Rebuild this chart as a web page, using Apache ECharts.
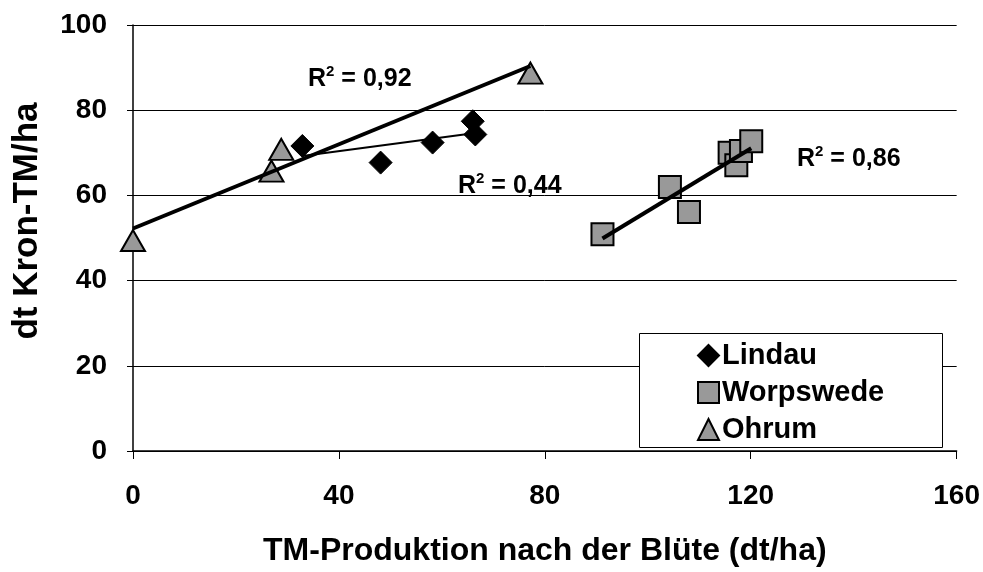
<!DOCTYPE html>
<html>
<head>
<meta charset="utf-8">
<script src="https://cdn.jsdelivr.net/npm/echarts@6/dist/echarts.min.js"></script>
<style>html,body{margin:0;padding:0;background:#fff;}#c{width:983px;height:572px;}</style>
</head>
<body>
<div id="c"></div>
<script>
// Data
const lindauX = [32.9, 48.1, 58.2, 66.0, 66.5];
const lindauY = [71.6, 67.7, 72.4, 77.4, 74.3];
const worpX = [91.2, 104.3, 108.0, 115.9, 117.2, 118.1, 120.1];
const worpY = [50.9, 62.0, 56.1, 70.0, 67.1, 70.4, 72.7];
const ohrumX = [0, 26.9, 28.8, 77.2];
const ohrumY = [49.4, 65.7, 70.8, 88.7];
const r2Values = ['0,92', '0,44', '0,86'];
const seriesNames = ['Lindau', 'Worpswede', 'Ohrum'];
const xTitle = 'TM-Produktion nach der Blüte (dt/ha)';
const yTitle = 'dt Kron-TM/ha';

function pairs(xs, ys) { return xs.map((x, i) => [x, ys[i]]); }
// least-squares linear trendline (like the spreadsheet trendline), drawn from min x to max x
function trend(xs, ys) {
  const n = xs.length;
  const mx = xs.reduce((a, b) => a + b, 0) / n;
  const my = ys.reduce((a, b) => a + b, 0) / n;
  let sxy = 0, sxx = 0;
  for (let i = 0; i < n; i++) { sxy += (xs[i] - mx) * (ys[i] - my); sxx += (xs[i] - mx) ** 2; }
  const b = sxy / sxx, a = my - b * mx;
  const x0 = Math.min(...xs), x1 = Math.max(...xs);
  return [[x0, a + b * x0], [x1, a + b * x1]];
}

const FONT = "'Liberation Sans', Arial, sans-serif";
const r2Rich = {
  b: { fontSize: 25, fontWeight: 'bold', fontFamily: FONT, color: '#000', lineHeight: 28, verticalAlign: 'bottom' },
  s: { fontSize: 15, fontWeight: 'bold', fontFamily: FONT, color: '#000', lineHeight: 15, verticalAlign: 'top' }
};
function r2Text(x, y, v) {
  return { type: 'text', z: 100, x: x, y: y,
    style: { text: '{b|R}{s|2}{b| = ' + v + '}', rich: r2Rich, align: 'left', verticalAlign: 'middle' } };
}

const chart = echarts.init(document.getElementById('c'));
const mk = { color: '#999999', borderColor: '#000', borderWidth: 2, opacity: 1 };
chart.setOption({
  animation: false,
  backgroundColor: '#fff',
  grid: { left: 133, right: 25, top: 25, bottom: 119, containLabel: false },
  xAxis: {
    type: 'value', min: 0, max: 160, interval: 40,
    axisLine: { onZero: false, lineStyle: { color: '#000', width: 1.5 } },
    axisTick: { show: true, length: 8, lineStyle: { color: '#000' } },
    axisLabel: { margin: 31, color: '#000', fontSize: 28, fontWeight: 'bold', fontFamily: FONT },
    splitLine: { show: false },
    name: xTitle, nameLocation: 'middle', nameGap: 84,
    nameTextStyle: { color: '#000', fontSize: 32, fontWeight: 'bold', fontFamily: FONT }
  },
  yAxis: {
    type: 'value', min: 0, max: 100, interval: 20,
    axisLine: { show: true, lineStyle: { color: '#000', width: 1.5 } },
    axisTick: { show: true, length: 6, lineStyle: { color: '#000' } },
    axisLabel: { margin: 26, color: '#000', fontSize: 28, fontWeight: 'bold', fontFamily: FONT },
    splitLine: { show: true, lineStyle: { color: '#000', width: 1 } }
  },
  legend: {
    orient: 'vertical', left: 692, top: 336, z: 200,
    itemWidth: 21, itemHeight: 21, itemGap: 8,
    data: seriesNames,
    textStyle: { color: '#000', fontSize: 29, fontWeight: 'bold', fontFamily: FONT, padding: [0, 0, 0, -2] }
  },
  graphic: [
    { type: 'rect', z: 100, shape: { x: 639.5, y: 333.5, width: 303, height: 114 },
      style: { fill: '#fff', stroke: '#000', lineWidth: 1 } },
    { type: 'text', z: 100, x: 27, y: 221, rotation: Math.PI / 2,
      style: { text: yTitle, fill: '#000', font: "bold 35px " + FONT, align: 'center', verticalAlign: 'middle' } },
    r2Text(308, 78, r2Values[0]),
    r2Text(458, 185, r2Values[1]),
    r2Text(797, 158, r2Values[2])
  ],
  series: [
    { name: 'Lindau', type: 'scatter', symbol: 'diamond', symbolSize: 23, z: 3,
      itemStyle: { color: '#000', borderColor: '#000', borderWidth: 1, opacity: 1 }, data: pairs(lindauX, lindauY) },
    { name: 'Worpswede', type: 'scatter', symbol: 'rect', symbolSize: 22, z: 3,
      itemStyle: mk, data: pairs(worpX, worpY) },
    { name: 'Ohrum', type: 'scatter', symbol: 'triangle', symbolSize: [24, 21], z: 3,
      itemStyle: mk, data: pairs(ohrumX, ohrumY) },
    { name: 'trend Lindau', type: 'line', symbol: 'none', silent: true, z: 5,
      lineStyle: { color: '#000', width: 2 }, data: trend(lindauX, lindauY) },
    { name: 'trend Worpswede', type: 'line', symbol: 'none', silent: true, z: 5,
      lineStyle: { color: '#000', width: 4 }, data: trend(worpX, worpY) },
    { name: 'trend Ohrum', type: 'line', symbol: 'none', silent: true, z: 5,
      lineStyle: { color: '#000', width: 4 }, data: trend(ohrumX, ohrumY) }
  ]
});
</script>
</body>
</html>
